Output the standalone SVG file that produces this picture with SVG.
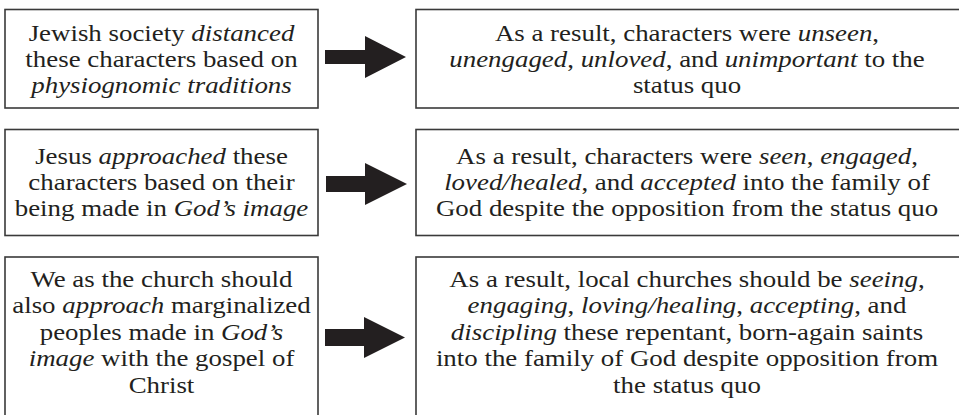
<svg xmlns="http://www.w3.org/2000/svg" width="959" height="415" viewBox="0 0 959 415">
<style>
.box{fill:#fff;stroke:#3a3a3a;stroke-width:1.6}
.t{font-family:"Liberation Serif","Times New Roman",serif;font-size:24px;fill:#231f20;text-anchor:middle}
.i{font-style:italic}
.arrow{fill:#231f20}
</style>
<rect width="959" height="415" fill="#fff"/>
<g id="left1">
<rect class="box" x="5" y="9.5" width="313" height="98.5"/>
<g transform="translate(161.5,0) scale(1.12,1)">
<text class="t" x="0" y="41">Jewish society <tspan class="i">distanced</tspan></text>
<text class="t" x="0" y="67">these characters based on</text>
<text class="t" x="0" y="93"><tspan class="i">physiognomic traditions</tspan></text>
</g>
</g>
<g id="right1">
<rect class="box" x="416" y="9.5" width="560" height="98.5"/>
<g transform="translate(687,0) scale(1.12,1)">
<text class="t" x="0" y="41">As a result, characters were <tspan class="i">unseen</tspan>,</text>
<text class="t" x="0" y="67"><tspan class="i">unengaged</tspan>, <tspan class="i">unloved</tspan>, and <tspan class="i">unimportant</tspan> to the</text>
<text class="t" x="0" y="93">status quo</text>
</g>
</g>
<g id="left2">
<rect class="box" x="5" y="129.5" width="313" height="106"/>
<g transform="translate(161.5,0) scale(1.12,1)">
<text class="t" x="0" y="164">Jesus <tspan class="i">approached</tspan> these</text>
<text class="t" x="0" y="190">characters based on their</text>
<text class="t" x="0" y="216">being made in <tspan class="i">God’s image</tspan></text>
</g>
</g>
<g id="right2">
<rect class="box" x="416" y="129.5" width="560" height="106"/>
<g transform="translate(687,0) scale(1.12,1)">
<text class="t" x="0" y="164">As a result, characters were <tspan class="i">seen</tspan>, <tspan class="i">engaged</tspan>,</text>
<text class="t" x="0" y="190"><tspan class="i">loved/healed</tspan>, and <tspan class="i">accepted</tspan> into the family of</text>
<text class="t" x="0" y="216">God despite the opposition from the status quo</text>
</g>
</g>
<g id="left3">
<rect class="box" x="5" y="257" width="313" height="170"/>
<g transform="translate(161.5,0) scale(1.12,1)">
<text class="t" x="0" y="287">We as the church should</text>
<text class="t" x="0" y="313.5">also <tspan class="i">approach</tspan> marginalized</text>
<text class="t" x="0" y="340">peoples made in <tspan class="i">God’s</tspan></text>
<text class="t" x="0" y="366.5"><tspan class="i">image</tspan> with the gospel of</text>
<text class="t" x="0" y="393">Christ</text>
</g>
</g>
<g id="right3">
<rect class="box" x="416" y="257" width="560" height="170"/>
<g transform="translate(687,0) scale(1.12,1)">
<text class="t" x="0" y="287">As a result, local churches should be <tspan class="i">seeing</tspan>,</text>
<text class="t" x="0" y="313.5"><tspan class="i">engaging</tspan>, <tspan class="i">loving/healing</tspan>, <tspan class="i">accepting</tspan>, and</text>
<text class="t" x="0" y="340"><tspan class="i">discipling</tspan> these repentant, born-again saints</text>
<text class="t" x="0" y="366.5">into the family of God despite opposition from</text>
<text class="t" x="0" y="393">the status quo</text>
</g>
</g>
<g id="connectors">
<polygon class="arrow" points="325,50 365,50 365,36 406,57 365,78 365,64 325,64"/>
<polygon class="arrow" points="326,176 365,176 365,163 407,184 365,205 365,192 326,192"/>
<polygon class="arrow" points="325,329 364,329 364,317 405,337.5 364,358 364,346 325,346"/>
</g>
</svg>
